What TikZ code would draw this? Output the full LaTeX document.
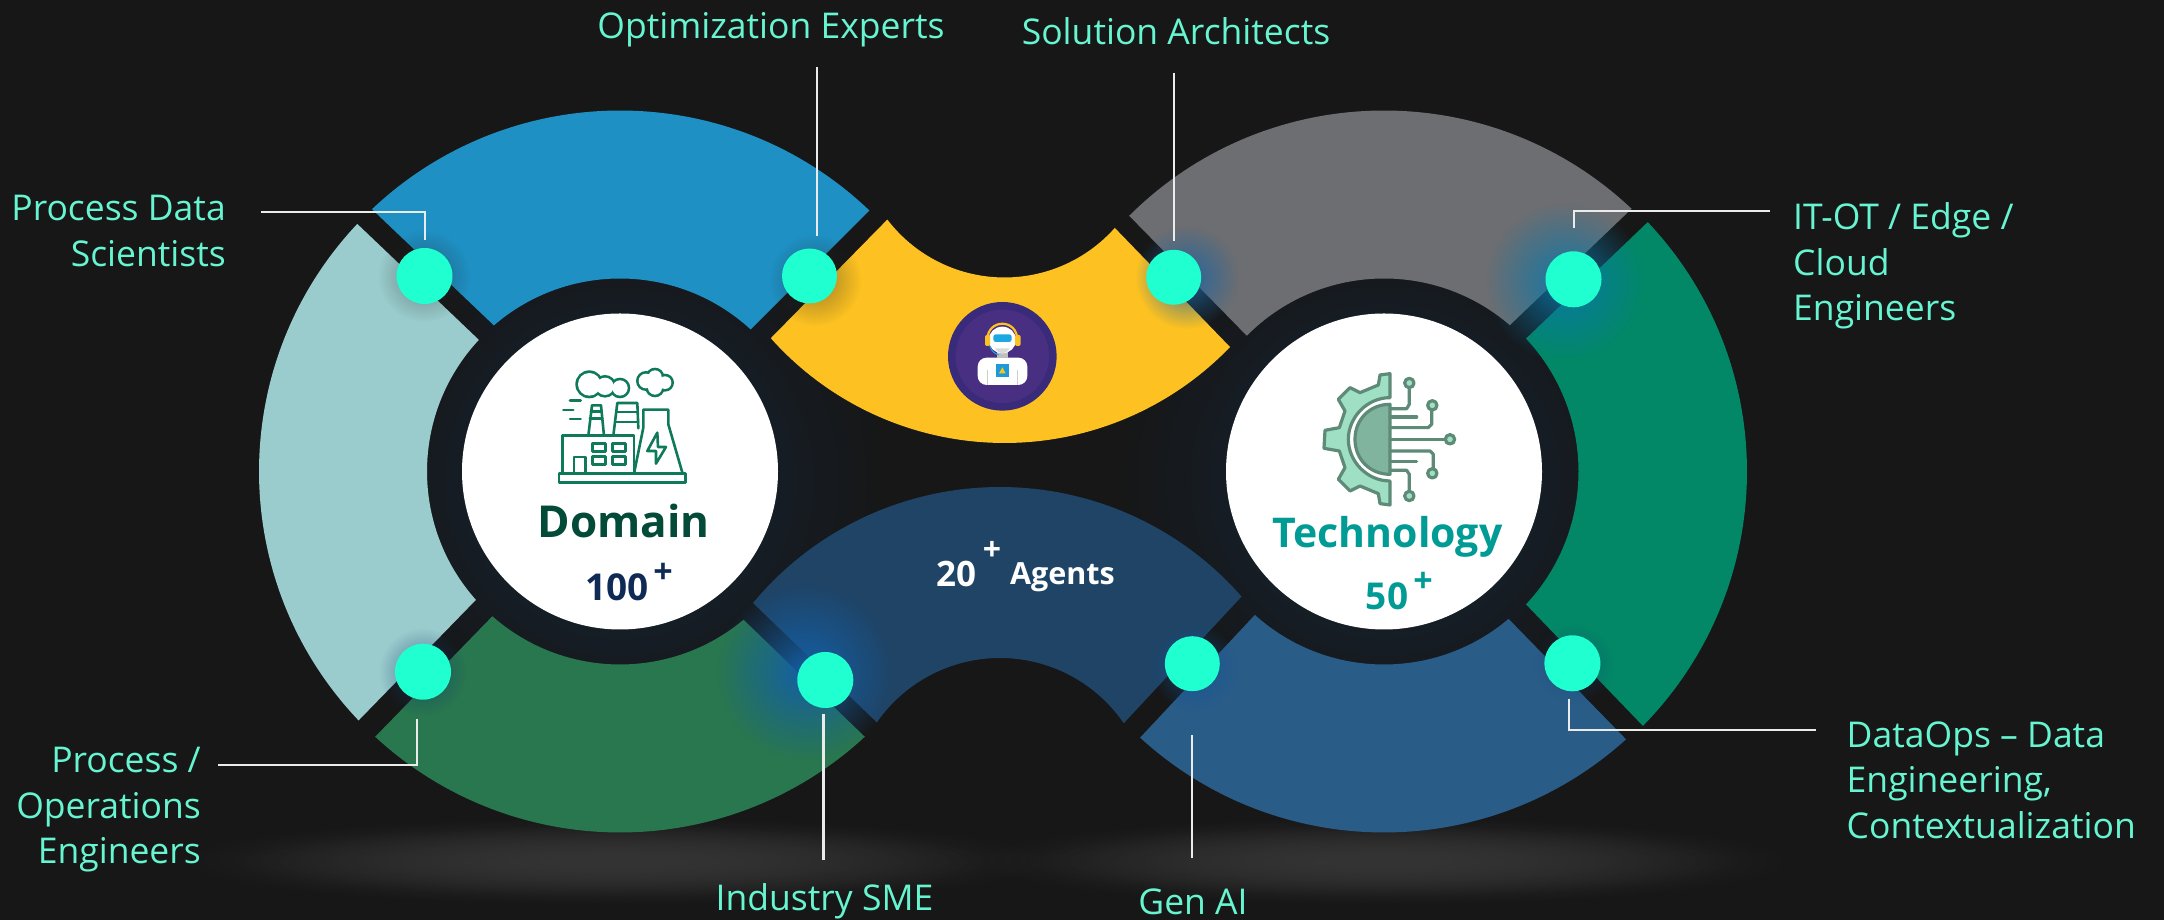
\documentclass[tikz,border=0pt]{standalone}
\usepackage{fontspec}
\setmainfont{Open Sans}
\usetikzlibrary{calc,fadings}
\tikzfading[name=softfade, inner color=transparent!0, outer color=transparent!100]
\definecolor{bgc}{HTML}{171717}
\definecolor{dotc}{HTML}{20FFCF}
\definecolor{labc}{HTML}{66F5D0}
\definecolor{fac}{HTML}{0F7A5A}
\definecolor{gearl}{HTML}{5E8A78}
\definecolor{gearf}{HTML}{9FE0C4}
\definecolor{gearm}{HTML}{80B49E}
\definecolor{ringc}{RGB}{20,38,58}
\definecolor{segblue}{RGB}{30,144,195}
\definecolor{segteal}{RGB}{154,204,205}
\definecolor{seggreen}{RGB}{41,119,79}
\definecolor{seggray}{RGB}{109,110,113}
\definecolor{segdteal}{RGB}{2,136,102}
\definecolor{segblueb}{RGB}{42,92,136}
\definecolor{segyel}{RGB}{253,194,33}
\definecolor{segnavy}{RGB}{31,68,102}
\definecolor{domc}{RGB}{3,74,56}
\definecolor{hunc}{RGB}{15,42,85}
\definecolor{tecc}{RGB}{0,155,148}
\definecolor{glowa}{RGB}{20,95,165}
\definecolor{glowb}{RGB}{10,120,170}
\definecolor{glowc}{RGB}{30,100,160}
\definecolor{glowd}{RGB}{15,60,110}
\definecolor{glowe}{RGB}{15,85,150}
\definecolor{glowf}{RGB}{15,70,120}
\definecolor{glowg}{RGB}{40,40,40}
\definecolor{floorc}{RGB}{52,52,52}
\definecolor{robo}{RGB}{58,43,122}
\definecolor{robi}{RGB}{72,47,130}
\definecolor{robb}{RGB}{30,167,224}
\definecolor{robc}{RGB}{30,154,214}
\newcommand{\seg}[8]{\fill[#8] ($(#1)+(#3:#2pt)$) arc[start angle=#3,end angle=#4,radius=#2pt] -- ($(#1)+(#6:#5pt)$) arc[start angle=#6,end angle=#7,radius=#5pt] -- cycle;}
\tikzset{
 lab/.style={text=labc,font=\fontsize{35.5}{45.5}\selectfont,inner sep=0pt},
 conn/.style={draw=white!92!black,line width=2.2pt},
 glow/.style={fill=#1,path fading=softfade},
 fline/.style={draw=fac,line width=2.6pt,line join=round,line cap=round},
 gline/.style={draw=gearl,line width=3.2pt,line join=round,line cap=round},
 dotn/.style={circle,fill=dotc,minimum size=#1,inner sep=0pt},
 disc/.style={circle,fill=white,minimum size=316pt,inner sep=0pt},
}
\begin{document}
\begin{tikzpicture}[x=1pt,y=1pt]
\useasboundingbox (0,0) rectangle (2164,920);
\fill[bgc] (0,0) rectangle (2164,920);
% floor glows
\fill[glow=floorc] (614,59) ellipse [x radius=440,y radius=44];
\fill[glow=floorc] (614,59) ellipse [x radius=385,y radius=36];
\fill[glow=floorc] (1383,59) ellipse [x radius=410,y radius=44];
\fill[glow=floorc] (1383,59) ellipse [x radius=360,y radius=36];
% ring glows
\coordinate (CL) at (620,448.5);
\coordinate (CR) at (1384,448.5);
\coordinate (CY) at (1004.5,790);
\coordinate (CN) at (1000,112);
\fill[glow=ringc] (620,440) circle (262);
\fill[glow=ringc] (1384,440) circle (262);
% segments
\seg{CL}{361}{133.4}{46.3}{193}{47.4}{130.8}{segblue}
\seg{CL}{361}{136.7}{223.6}{193}{221.7}{137}{segteal}
\seg{CL}{361}{227.3}{312.7}{193}{309.8}{228.6}{seggreen}
\seg{CR}{361}{134.9}{46.7}{193}{49.3}{135.3}{seggray}
\seg{CR}{363}{43.4}{-44.5}{194.5}{-43.1}{43.1}{segdteal}
\seg{CR}{361}{227.5}{312.1}{193}{310.2}{228}{segblueb}
\seg{CY}{313}{221.7}{316.1}{147.5}{318.4}{217.4}{segyel}
\seg{CN}{321}{140.3}{41.2}{150}{34.4}{145.2}{segnavy}
% white discs
\node[disc] (discL) at (CL) {};
\node[disc] (discR) at (CR) {};
\begin{scope}[shift={(0,920)},x=1pt,y=-1pt]
% dot glows
\fill[glow=glowa] (805,672) circle (88);
\fill[glow=glowb,fill opacity=.9] (1565,282) circle (80);
\fill[glow=glowc,fill opacity=.9] (1187,277) circle (52);
\fill[glow=glowg,fill opacity=.45] (424,276) circle (46);
\fill[glow=glowg,fill opacity=.45] (815,280) circle (46);
\fill[glow=glowd,fill opacity=.6] (423,672) circle (44);
\fill[glow=glowe,fill opacity=.7] (1194,668) circle (44);
\fill[glow=glowf,fill opacity=.5] (1574,664) circle (40);
% dots
\node[dotn=56pt] (d1) at (424.5,276) {};
\node[dotn=55pt] (d2) at (809.5,276) {};
\node[dotn=55pt] (d3) at (1173.7,277.3) {};
\node[dotn=56pt] (d4) at (1573.5,279.3) {};
\node[dotn=56pt] (d5) at (423,671.7) {};
\node[dotn=56pt] (d6) at (825.3,680) {};
\node[dotn=55pt] (d7) at (1192.3,663.7) {};
\node[dotn=56pt] (d8) at (1572.4,663.3) {};
% labels
\node[lab,anchor=east,align=right] (l1) at (226,231) {Process Data\\Scientists};
\node[lab] (l2) at (771,30) {Optimization Experts};
\node[lab] (l3) at (1176,31) {Solution Architects};
\node[lab,anchor=west,align=left] (l4) at (1793,266) {IT-OT / Edge /\\Cloud\\Engineers};
\node[lab,anchor=east,align=right] (l5) at (201,810) {Process /\\Operations\\Engineers};
\node[lab] (l6) at (824.5,901) {Industry SME};
\node[lab] (l7) at (1193,902) {Gen AI};
\node[lab,anchor=west,align=left] (l8) at (1846.5,780) {DataOps -- Data\\Engineering,\\Contextualization};
% connector ends
\coordinate (a1) at (261,211.7); \coordinate (b1) at (424.8,240);
\coordinate (a2) at (816.8,67); \coordinate (b2) at (816.8,235.7);
\coordinate (a3) at (1173.7,73); \coordinate (b3) at (1173.7,241);
\coordinate (a4) at (1770,211); \coordinate (b4) at (1574.2,228);
\coordinate (a5) at (218,765); \coordinate (b5) at (417,719);
\coordinate (a6) at (823.5,860); \coordinate (b6) at (823.5,714);
\coordinate (a7) at (1192.3,858); \coordinate (b7) at (1192.3,735);
\coordinate (a8) at (1816,730); \coordinate (b8) at (1569,699);
\draw[conn] (a1) -| (b1);
\draw[conn] (a2) -- (b2);
\draw[conn] (a3) -- (b3);
\draw[conn] (a4) -| (b4);
\draw[conn] (a5) -| (b5);
\draw[conn] (a6) -- (b6);
\draw[conn] (a7) -- (b7);
\draw[conn] (a8) -| (b8);
% centre texts
\node[inner sep=0pt,font=\fontsize{44}{44}\selectfont\bfseries,text=domc] (tDom) at (623.5,521) {Domain};
\node[inner sep=0pt,font=\fontsize{37}{37}\selectfont\bfseries,text=hunc] (tH) at (617,587) {100};
\node[inner sep=0pt,font=\fontsize{34}{34}\selectfont\bfseries,text=hunc] (tHp) at (663,573) {+};
\node[inner sep=0pt,font=\fontsize{41}{41}\selectfont\bfseries,text=tecc] (tTec) at (1387.5,537) {Technology};
\node[inner sep=0pt,font=\fontsize{37}{37}\selectfont\bfseries,text=tecc] (tF) at (1387,596) {50};
\node[inner sep=0pt,font=\fontsize{34}{34}\selectfont\bfseries,text=tecc] (tFp) at (1423,582) {+};
\node[inner sep=0pt,font=\fontsize{35}{35}\selectfont\bfseries,text=white] (t20) at (956,574) {20};
\node[inner sep=0pt,font=\fontsize{32}{32}\selectfont\bfseries,text=white] (t20p) at (992,551) {+};
\node[inner sep=0pt,font=\fontsize{30.5}{30.5}\selectfont\bfseries,text=white] (tAg) at (1062.5,577) {Agents};
\end{scope}
% factory icon
\begin{scope}[shift={(530,579)},x=0.3333pt,y=-0.3333pt]
\draw[fline] (87,398) rectangle (467,425);
\draw[fline] (97,398) -- (97,284) -- (312,284) -- (312,398);
\draw[fline] (132,398) -- (132,348) -- (167,348) -- (167,398);
\draw[fline] (188,307) rectangle (226,331);
\draw[fline] (247,307) rectangle (287,331);
\draw[fline] (188,347) rectangle (226,371);
\draw[fline] (247,347) rectangle (287,371);
\draw[fline] (175,284) -- (186,193) -- (213,193) -- (222,284);
\draw[fline] (183,212) -- (215,212) (180,232) -- (217,232);
\draw[fline] (250,284) -- (262,186) -- (322,186) -- (325,262);
\draw[fline] (260,213) -- (322,213) (255,243) -- (325,243);
\draw[fline] (312,398) -- (340,260) -- (340,206) -- (415,206) -- (415,250) -- (458,398);
\draw[fline] (382,275) -- (352,330) -- (378,330) -- (378,368) -- (408,318) -- (384,318) -- cycle;
\draw[fline] (120,178) -- (152,178) (100,207) -- (130,207) (120,234) -- (152,234);
\foreach \px/\py/\pr in {178/130/38,225/136/30,270/141/27,348/120/26,375/108/24,405/125/23,375/140/25}
  \fill[fac] (\px,\py) circle [x radius=\pr+4,y radius=\pr+4];
\foreach \px/\py/\pr in {178/130/38,225/136/30,270/141/27,348/120/26,375/108/24,405/125/23,375/140/25}
  \fill[white] (\px,\py) circle [x radius=\pr-4,y radius=\pr-4];
\end{scope}
% gear icon
\begin{scope}[shift={(1290,559)},x=0.3333pt,y=-0.3333pt]
\draw[gline,fill=gearf] (300,38) -- (270,42) -- (265,72) -- (210,95) -- (180,80) -- (145,115) -- (165,150) -- (148,200) -- (105,208) -- (102,262) -- (148,270) -- (165,320) -- (145,355) -- (180,390) -- (210,375) -- (265,398) -- (270,428) -- (300,432) -- (300,360) .. controls (230,360) and (175,300) .. (175,235) .. controls (175,170) and (230,110) .. (300,110) -- cycle;
\draw[gline,fill=gearm] (300,130) .. controls (240,130) and (195,175) .. (195,235) .. controls (195,295) and (240,340) .. (300,340) -- cycle;
\draw[gline] (300,143) -- (350,143) -- (358,130) -- (358,80);
\draw[gline] (300,168) -- (380,168);
\draw[gline] (300,200) -- (415,200) -- (425,190) -- (425,148);
\draw[gline] (300,235) -- (465,235);
\draw[gline] (300,270) -- (420,270) -- (430,280) -- (430,322);
\draw[gline] (300,302) -- (380,302);
\draw[gline] (300,328) -- (350,328) -- (358,340) -- (358,390);
\foreach \px/\py in {358/66,427/133,480/235,427/337,358/405}
  \draw[gline,fill=gearf] (\px,\py) circle [x radius=14,y radius=14];
\end{scope}
% robot icon
\begin{scope}[shift={(930,630)},x=0.3333pt,y=-0.3333pt]
\fill[robo] (217,199) circle [x radius=163,y radius=163];
\fill[robi] (217,199) circle [x radius=140,y radius=140];
\fill[white,rounded corners=9pt] (143,285) -- (143,203) -- (292,203) -- (292,285) -- cycle;
\draw[gray!40,line width=1pt] (173,240) -- (173,285) (262,240) -- (262,285);
\fill[gray!50] (200,185) rectangle (235,205);
\draw[draw=segyel,line width=2.2pt] (172,150) .. controls (172,85) and (262,85) .. (262,150);
\fill[white] (217,150) ellipse [x radius=41,y radius=40];
\fill[gray!30] (195,175) .. controls (205,195) and (229,195) .. (239,175) -- cycle;
\fill[segyel,rounded corners=2pt] (165,135) rectangle (180,168);
\fill[segyel,rounded corners=2pt] (255,135) rectangle (272,168);
\fill[robb,rounded corners=2.5pt] (190,133) rectangle (245,156);
\draw[draw=robb,line width=1pt] (178,165) .. controls (185,185) and (195,192) .. (207,195);
\fill[robc] (197,222) rectangle (237,262);
\fill[segyel] (217,232) -- (207,250) -- (227,250) -- cycle;
\end{scope}
\end{tikzpicture}
\end{document}
